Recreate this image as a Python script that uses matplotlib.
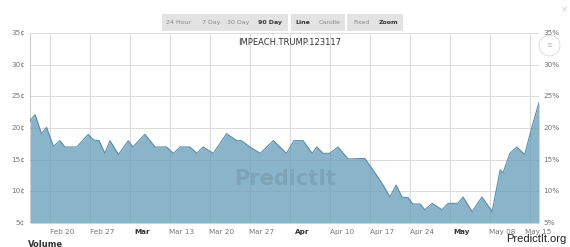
import matplotlib
matplotlib.use('Agg')
import matplotlib.pyplot as plt
from matplotlib.patches import Rectangle
from matplotlib.lines import Line2D

# days counted from Feb 20 (2017), price in cents
days = [-5.6, -5.5, -4.7, -3.6, -2.7, -1.5, -0.35, 0.5, 2.6, 4.6, 5.5, 6.5, 7.5, 8.4, 9.9,
        11.6, 12.4, 14.5, 16.3, 18.3, 19.5, 20.7, 22.4, 23.6, 24.7, 26.5, 28.8, 30.6,
        31.4, 32.9, 34.7, 37.0, 39.3, 40.6, 42.2, 43.8, 44.6, 45.7, 46.9, 48.3, 50.1,
        53.0, 54.8, 56.2, 57.4, 58.5, 59.5, 60.6, 61.4, 62.7, 63.5, 64.8, 66.5, 67.6,
        69.3, 70.2, 71.8, 73.5, 75.3, 76.7, 77.2, 78.4, 79.6, 81.0, 82.3, 83.5]
price = [21.0, 21.3, 22.1, 19.1, 20.1, 17.1, 18.0, 17.0, 17.0, 19.0, 18.1, 18.0, 16.0, 18.0, 15.8,
         18.0, 17.0, 19.0, 17.0, 17.0, 16.0, 17.0, 17.0, 16.0, 17.0, 16.0, 19.1, 18.0,
         18.0, 17.0, 16.0, 18.0, 16.0, 18.0, 18.0, 16.0, 17.0, 16.0, 16.0, 17.0, 15.1,
         15.2, 12.9, 11.0, 9.1, 11.0, 9.1, 9.0, 8.0, 8.0, 7.1, 8.1, 7.1, 8.1,
         8.1, 9.1, 6.8, 9.1, 6.8, 13.4, 12.9, 16.0, 17.0, 15.8, 20.3, 24.0]

tick_days = [0, 7, 14, 21, 28, 35, 42, 49, 56, 63, 70, 77, 83.3]
tick_labels = ['Feb 20', 'Feb 27', 'Mar', 'Mar 13', 'Mar 20', 'Mar 27', 'Apr',
               'Apr 10', 'Apr 17', 'Apr 24', 'May', 'May 08', 'May 15']
y_ticks = [5, 10, 15, 20, 25, 30, 35]

buttons = [('24 Hour', 179, False), ('7 Day', 211, False), ('30 Day', 238, False),
           ('90 Day', 270, True), ('Line', 303, True), ('Candle', 330, False),
           ('Fixed', 361, False), ('Zoom', 389, True)]
button_boxes = [(162, 288), (291, 345), (347, 403)]

W, H = 570, 247
fig = plt.figure(figsize=(W / 100, H / 100), dpi=100)
fig.patch.set_facecolor('white')

def fx(px):
    return px / W

def fy(py):
    return 1 - py / H

ax = fig.add_axes([fx(30), fy(223), fx(539) - fx(30), fy(33) - fy(223)])
ax.set_xlim(-5.6, 83.5)
ax.set_ylim(5, 35)

# grid
for y in y_ticks:
    ax.axhline(y, color='#dadada', lw=0.7, zorder=0)
for d in range(-2, 84, 7):
    ax.axvline(d - 0.1, color='#dadada', lw=0.7, zorder=0)

area = ax.fill_between(days, price, 5, color='#89b4c9', lw=0, zorder=2)
ax.plot(days, price, color='#5d8ca5', lw=0.8, zorder=3)
# grid lines seen through the filled area
clip = area.get_paths()[0]
for d in range(-2, 84, 7):
    ln = ax.axvline(d - 0.1, color='#7ea8bc', lw=0.5, zorder=2.5)
    ln.set_clip_path(clip, ax.transData)
for y in y_ticks[1:]:
    ln = ax.axhline(y, color='#80aabe', lw=0.5, zorder=2.5)
    ln.set_clip_path(clip, ax.transData)

ax.text(39, 12.0, 'PredictIt', fontsize=15, fontweight='bold', color='#7ea3b6',
        ha='center', va='center', zorder=2.6, family='Liberation Sans Narrow')

ax.set_xticks([])
ax.set_yticks([])
for s in ax.spines.values():
    s.set_visible(False)
ax.axvline(-5.6, color='#cfcfcf', lw=0.8)

# axis labels
for d, lab in zip(tick_days, tick_labels):
    bold = lab in ('Mar', 'Apr', 'May')
    ax.text(d, 3.6, lab, ha='center', va='center', fontsize=5.2,
            color='#333333' if bold else '#777777',
            fontweight='bold' if bold else 'normal', clip_on=False)
for y in y_ticks:
    fig.text(fx(25), fy(223 - (y - 5) * 190 / 30), f'{y}¢', ha='right', va='center',
             fontsize=5.2, color='#777777')
    fig.text(fx(543), fy(223 - (y - 5) * 190 / 30), f'{y}%', ha='left', va='center',
             fontsize=5.2, color='#777777')

# title
fig.text(fx(290), fy(42), 'IMPEACH.TRUMP.123117', ha='center', va='center',
         fontsize=6, color='#333333')

# range buttons
for x0, x1 in button_boxes:
    fig.patches.append(Rectangle((fx(x0), fy(31)), fx(x1) - fx(x0), fy(14) - fy(31),
                                 transform=fig.transFigure, facecolor='#e3e3e3',
                                 edgecolor='none'))
for lab, x, bold in buttons:
    fig.text(fx(x), fy(22.5), lab, ha='center', va='center', fontsize=4.5,
             color='#333333' if bold else '#888888',
             fontweight='bold' if bold else 'normal')

# zoom reset icon and close mark
fig.add_artist(Line2D([fx(549)], [fy(45)], marker='o', markersize=15,
                      markerfacecolor='white', markeredgecolor='#dddddd',
                      markeredgewidth=0.7, transform=fig.transFigure))
fig.text(fx(549), fy(45), '≡', ha='center', va='center', fontsize=5, color='#bbbbbb')
fig.text(fx(564), fy(10), '×', ha='center', va='center', fontsize=6, color='#cccccc')

fig.text(fx(28), fy(244), 'Volume', ha='left', va='center', fontsize=6,
         fontweight='bold', color='#333333')
fig.text(fx(536), fy(239), 'PredictIt.org', ha='center', va='center', fontsize=8,
         family='Liberation Sans', color='#222222')

fig.savefig('out.png', dpi=100)
